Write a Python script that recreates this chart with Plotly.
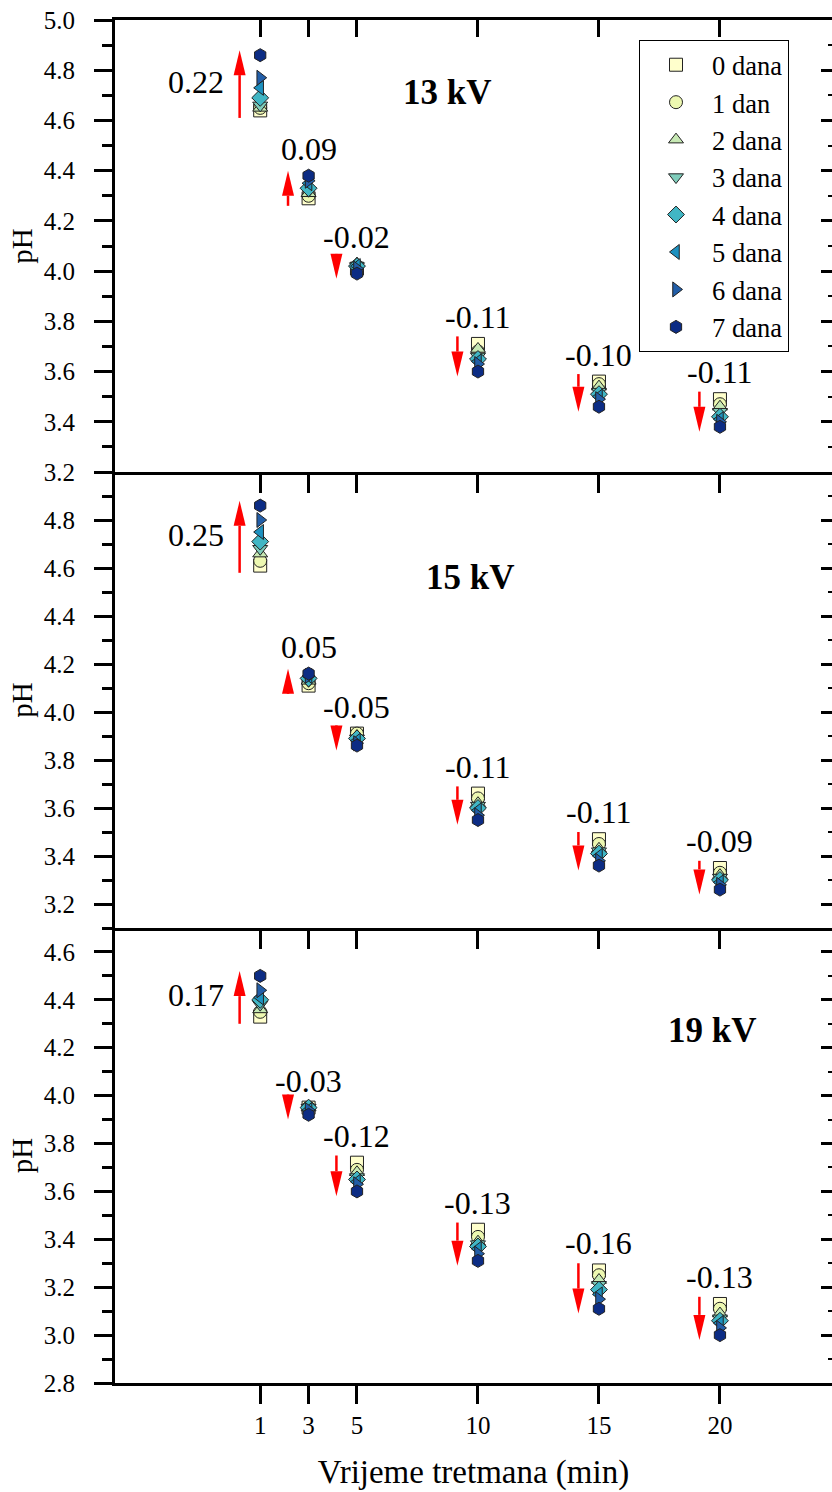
import plotly.graph_objects as go

# ---------------- data ----------------
times = [1, 3, 5, 10, 15, 20]
series_names = ["0 dana", "1 dan", "2 dana", "3 dana", "4 dana", "5 dana", "6 dana", "7 dana"]

ph_13kV = [
    [4.64, 4.29, 4.01, 3.71, 3.56, 3.49],
    [4.65, 4.30, 4.02, 3.68, 3.55, 3.47],
    [4.65, 4.31, 4.03, 3.69, 3.54, 3.46],
    [4.66, 4.32, 4.02, 3.66, 3.52, 3.44],
    [4.69, 4.33, 4.02, 3.65, 3.51, 3.42],
    [4.73, 4.35, 4.02, 3.64, 3.50, 3.41],
    [4.77, 4.36, 4.01, 3.63, 3.49, 3.40],
    [4.86, 4.38, 3.99, 3.60, 3.46, 3.38],
]
ph_15kV = [
    [4.61, 4.11, 3.91, 3.66, 3.47, 3.35],
    [4.63, 4.12, 3.91, 3.64, 3.45, 3.33],
    [4.66, 4.13, 3.90, 3.62, 3.43, 3.32],
    [4.68, 4.13, 3.89, 3.61, 3.42, 3.31],
    [4.71, 4.14, 3.89, 3.60, 3.41, 3.30],
    [4.75, 4.15, 3.88, 3.59, 3.40, 3.29],
    [4.80, 4.15, 3.87, 3.57, 3.38, 3.28],
    [4.86, 4.16, 3.86, 3.55, 3.36, 3.26],
]
ph_19kV = [
    [4.33, 3.95, 3.72, 3.44, 3.27, 3.13],
    [4.35, 3.95, 3.69, 3.41, 3.25, 3.11],
    [4.36, 3.95, 3.68, 3.39, 3.23, 3.09],
    [4.38, 3.95, 3.66, 3.38, 3.21, 3.07],
    [4.40, 3.95, 3.65, 3.37, 3.19, 3.06],
    [4.41, 3.94, 3.64, 3.36, 3.17, 3.05],
    [4.44, 3.94, 3.63, 3.34, 3.15, 3.03],
    [4.50, 3.92, 3.60, 3.31, 3.11, 3.00],
]
diff_13kV = ["0.22", "0.09", "-0.02", "-0.11", "-0.10", "-0.11"]
diff_15kV = ["0.25", "0.05", "-0.05", "-0.11", "-0.11", "-0.09"]
diff_19kV = ["0.17", "-0.03", "-0.12", "-0.13", "-0.16", "-0.13"]
panel_titles = ["13 kV", "15 kV", "19 kV"]

x_ticks = [1, 3, 5, 10, 15, 20]
y_ticks_13 = [3.2, 3.4, 3.6, 3.8, 4.0, 4.2, 4.4, 4.6, 4.8, 5.0]
y_ticks_15 = [3.2, 3.4, 3.6, 3.8, 4.0, 4.2, 4.4, 4.6, 4.8]
y_ticks_19 = [2.8, 3.0, 3.2, 3.4, 3.6, 3.8, 4.0, 4.2, 4.4, 4.6]

# ---------------- style ----------------
colors = ["#FFFFCC", "#EDF8B1", "#C7E9B4", "#7FCDBB", "#41B6C4", "#1D91C0", "#225EA8", "#0C2C84"]
symbols = ["square", "circle", "triangle-up", "triangle-down", "diamond",
           "triangle-left", "triangle-right", "hexagon"]
FONT = "Liberation Serif"

W, H = 832, 1492
ML, MR, MT, MB = 115, 0, 20, 109
plot_h = H - MT - MB
plot_w = W - ML - MR
XR = [-5, 24.63]

h_top, h_mid, h_bot = 452, 456, plot_h - 452 - 456
dom_bot = [0, h_bot / plot_h]
dom_mid = [h_bot / plot_h, (h_bot + h_mid) / plot_h]
dom_top = [(h_bot + h_mid) / plot_h, 1]

panels = [
    dict(data=ph_13kV, diffs=diff_13kV, title=panel_titles[0], xa="x3", ya="y3",
         rng=[3.2, 5.0], ticks=y_ticks_13, dom=dom_top, hpx=h_top, tpos=(8.73, 4.71)),
    dict(data=ph_15kV, diffs=diff_15kV, title=panel_titles[1], xa="x2", ya="y2",
         rng=[3.1, 5.0], ticks=y_ticks_15, dom=dom_mid, hpx=h_mid, tpos=(9.68, 4.56)),
    dict(data=ph_19kV, diffs=diff_19kV, title=panel_titles[2], xa="x", ya="y",
         rng=[2.8, 4.7], ticks=y_ticks_19, dom=dom_bot, hpx=h_bot, tpos=(19.7, 4.27)),
]

fig = go.Figure()
shapes = []
annotations = []

px_per_x = plot_w / (XR[1] - XR[0])
ARROW_DX = -0.85
HEAD_W_PX = 12
HEAD_L_PX = 25

for pi, p in enumerate(panels):
    for si, name in enumerate(series_names):
        fig.add_trace(go.Scatter(
            x=times, y=p["data"][si], mode="markers", name=name,
            xaxis=p["xa"], yaxis=p["ya"],
            showlegend=(pi == 0), legendgroup=name,
            marker=dict(symbol=symbols[si], size=13, color=colors[si],
                        line=dict(color="#222222", width=1)),
        ))
    px_per_y = p["hpx"] / (p["rng"][1] - p["rng"][0])
    head_l = HEAD_L_PX / px_per_y
    head_hw = HEAD_W_PX / 2 / px_per_x
    for ti, t in enumerate(times):
        v0 = p["data"][0][ti]
        v7 = p["data"][-1][ti]
        col = [p["data"][s][ti] for s in range(len(series_names))]
        sign = 1 if v7 >= v0 else -1
        tail = v0 - sign * 0.03
        tip = v7 + sign * 0.02
        if abs(tip - tail) < 0.1:
            tail = tip - sign * 0.1
        base = tip - sign * head_l
        xa = t + ARROW_DX
        xref, yref = p["xa"], p["ya"]
        shapes.append(dict(type="line", xref=xref, yref=yref, x0=xa, x1=xa,
                           y0=tail, y1=base, line=dict(color="#FF0000", width=2.5)))
        shapes.append(dict(type="path", xref=xref, yref=yref,
                           path=f"M{xa - head_hw},{base} L{xa + head_hw},{base} L{xa},{tip} Z",
                           fillcolor="#FF0000", line=dict(width=0)))
        if ti == 0:
            annotations.append(dict(x=xa, y=(tail + tip) / 2, xref=xref, yref=yref,
                                    text=p["diffs"][ti], showarrow=False,
                                    xanchor="right", yanchor="middle", xshift=-14, yshift=2,
                                    font=dict(family=FONT, size=32, color="black")))
        else:
            annotations.append(dict(x=t, y=max(col), xref=xref, yref=yref,
                                    text=p["diffs"][ti], showarrow=False,
                                    xanchor="center", yanchor="middle", yshift=27,
                                    font=dict(family=FONT, size=32, color="black")))
    annotations.append(dict(x=p["tpos"][0], y=p["tpos"][1], xref=p["xa"], yref=p["ya"],
                            text=f"<b>{p['title']}</b>", showarrow=False,
                            xanchor="center", yanchor="middle",
                            font=dict(family=FONT, size=35, color="black")))

# dummy traces so overlay axes get drawn
for xa_, ya_ in [("x4", "y3"), ("x3", "y6"), ("x2", "y5"), ("x", "y4")]:
    fig.add_trace(go.Scatter(x=[None], y=[None], xaxis=xa_, yaxis=ya_,
                             showlegend=False, hoverinfo="skip", mode="markers"))

axis_common = dict(showgrid=False, zeroline=False, linecolor="black", linewidth=3,
                   tickcolor="black", tickwidth=3, color="black",
                   tickfont=dict(family=FONT, size=25, color="black"))

def xaxis(anchor, labels, title=None):
    d = dict(axis_common, anchor=anchor, domain=[0, 1], range=XR, showline=True,
             tickmode="array", tickvals=x_ticks, ticks="outside", ticklen=18,
             showticklabels=labels, ticklabelstandoff=0)
    if title:
        d["title"] = dict(text=title, font=dict(family=FONT, size=33, color="black"), standoff=22)
    return d

def yaxis(anchor, p):
    return dict(axis_common, anchor=anchor, domain=p["dom"], range=p["rng"], showline=True,
                tickmode="array", tickvals=p["ticks"], ticks="outside", ticklen=18,
                tickformat=".1f", ticklabelstandoff=14,
                minor=dict(dtick=0.1, tick0=0, ticks="outside", ticklen=10,
                           tickwidth=3, tickcolor="black", showgrid=False),
                title=dict(text="pH", font=dict(family=FONT, size=29, color="black"), standoff=3))

def yright(overlay, anchor, p):
    return dict(overlaying=overlay, anchor=anchor, side="right", range=p["rng"],
                showgrid=False, zeroline=False, showline=False, showticklabels=False,
                tickmode="array", tickvals=p["ticks"], ticks="inside", ticklen=11,
                tickwidth=3, tickcolor="black",
                minor=dict(dtick=0.1, tick0=0, ticks="inside", ticklen=4,
                           tickwidth=2, tickcolor="black", showgrid=False))

fig.update_layout(
    width=W, height=H,
    margin=dict(l=ML, r=MR, t=MT, b=MB, pad=0),
    paper_bgcolor="white", plot_bgcolor="rgba(0,0,0,0)",
    font=dict(family=FONT, color="black"),
    xaxis=xaxis("y", True, "Vrijeme tretmana (min)"),
    xaxis2=xaxis("y2", False),
    xaxis3=xaxis("y3", False),
    xaxis4=dict(overlaying="x3", anchor="y3", side="top", range=XR, showgrid=False,
                zeroline=False, showline=True, linecolor="black", linewidth=3,
                showticklabels=False, tickmode="array", tickvals=x_ticks,
                ticks="inside", ticklen=17, tickwidth=3, tickcolor="black"),
    yaxis=yaxis("x", panels[2]),
    yaxis2=yaxis("x2", panels[1]),
    yaxis3=yaxis("x3", panels[0]),
    yaxis4=yright("y", "x", panels[2]),
    yaxis5=yright("y2", "x2", panels[1]),
    yaxis6=yright("y3", "x3", panels[0]),
    shapes=shapes,
    annotations=annotations,
    showlegend=True,
    legend=dict(x=(639 - ML) / plot_w, y=(H - MB - 40) / plot_h, xanchor="left", yanchor="top",
                bgcolor="white", bordercolor="black", borderwidth=1,
                font=dict(family=FONT, size=26.5, color="black"),
                itemwidth=62, tracegroupgap=0),
)

fig.write_html("out.html", config={"displayModeBar": False},
               post_script="document.body.style.margin='0';document.body.style.overflow='hidden';")
